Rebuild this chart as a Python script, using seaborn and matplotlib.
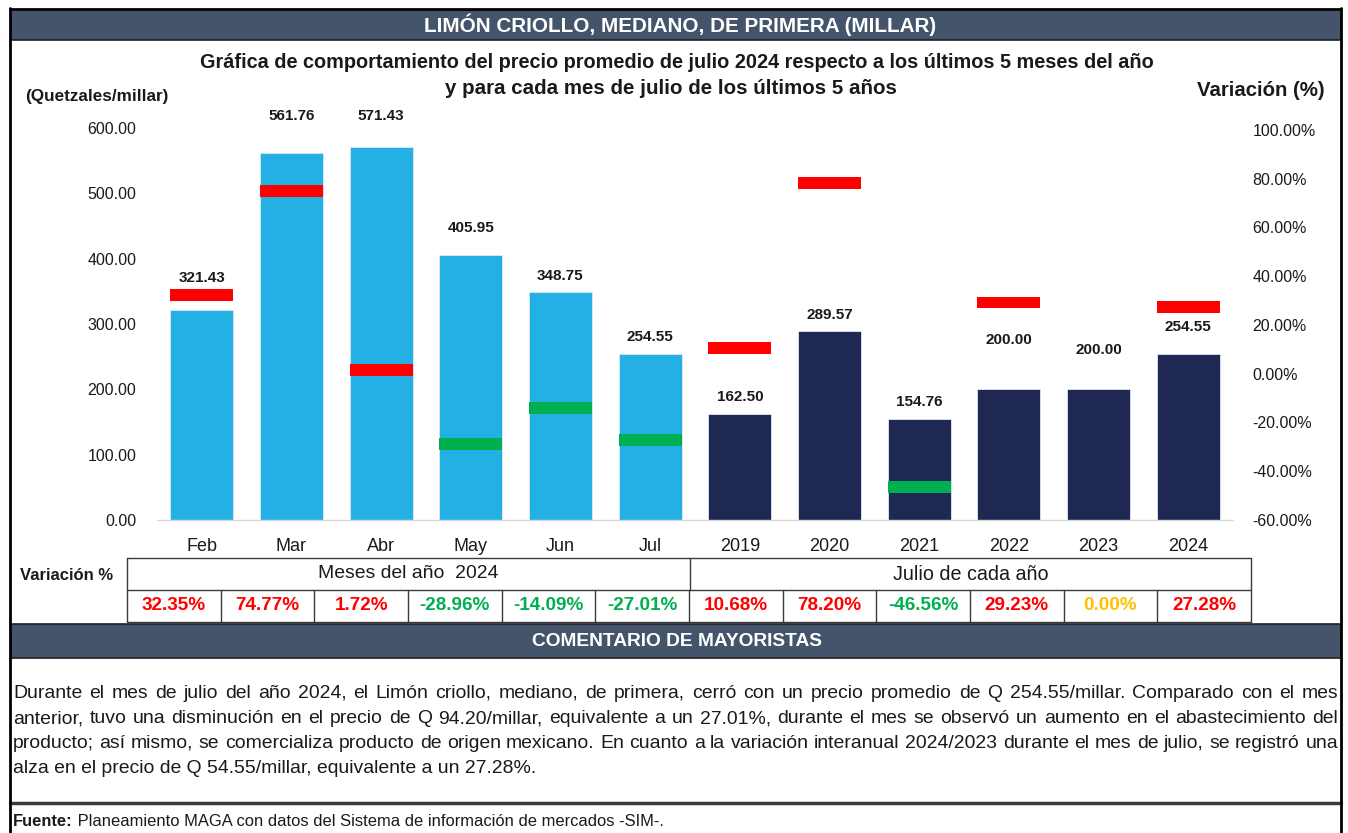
import matplotlib
matplotlib.use("Agg")
import matplotlib.pyplot as plt
import numpy as np
import pandas as pd
import seaborn as sns
from matplotlib import font_manager
from matplotlib.patches import Rectangle
from matplotlib.lines import Line2D

# ---------------- data ----------------
categories = ["Feb", "Mar", "Abr", "May", "Jun", "Jul",
              "2019", "2020", "2021", "2022", "2023", "2024"]
prices = [321.43, 561.76, 571.43, 405.95, 348.75, 254.55,
          162.50, 289.57, 154.76, 200.00, 200.00, 254.55]
variation = [32.35, 74.77, 1.72, -28.96, -14.09, -27.01,
             10.68, 78.20, -46.56, 29.23, 0.00, 27.28]
groups = ["Meses del año  2024"] * 6 + ["Julio de cada año"] * 6
group_names = ["Meses del año  2024", "Julio de cada año"]
left_ticks = [0, 100, 200, 300, 400, 500, 600]
right_ticks = [-60, -40, -20, 0, 20, 40, 60, 80, 100]

header = "LIMÓN CRIOLLO, MEDIANO, DE PRIMERA (MILLAR)"
title1 = "Gráfica de comportamiento del precio promedio de julio 2024 respecto a los últimos 5 meses del año"
title2 = "y para cada mes de julio de los últimos 5 años"
comment_title = "COMENTARIO DE MAYORISTAS"
comment_lines = [
    "Durante el mes de julio del año 2024, el Limón criollo, mediano, de primera, cerró con un precio promedio de Q 254.55/millar.  Comparado con el mes",
    "anterior, tuvo una disminución en el precio de Q 94.20/millar, equivalente a un 27.01%, durante el mes se observó un aumento en el abastecimiento del",
    "producto; así mismo, se comercializa producto de origen mexicano. En cuanto a la variación interanual 2024/2023 durante el mes de julio, se registró una",
    "alza en el precio de Q 54.55/millar, equivalente a un 27.28%.",
]
source_bold = "Fuente:"
source_text = " Planeamiento MAGA con datos del Sistema de información de mercados -SIM-."

# ---------------- style ----------------
LIGHT = "#23B0E4"
NAVY = "#1E2852"
SLATE = "#44546A"
RED = "#FF0000"
GREEN = "#00B050"
AMBER = "#FFC000"
TXT = "#1A1A1A"

sns.set_theme(style="white")
BASE = "Liberation Sans"
try:
    font_manager.findfont(BASE, fallback_to_default=False)
except Exception:
    BASE = "DejaVu Sans"
plt.rcParams["font.family"] = [BASE, "DejaVu Sans"]

W, H = 1348, 833
fig = plt.figure(figsize=(W / 100, H / 100), dpi=100)
renderer = fig.canvas.get_renderer()


def fx(x):
    return x / W


def fy(y):
    return 1 - y / H


def measure(s, size, weight="normal"):
    t = fig.text(0, 0, s, fontsize=size, fontweight=weight)
    w = t.get_window_extent(renderer).width
    t.remove()
    return w


def advance(s, size, weight="normal"):
    # advance width of s, independent of glyph ink bearings
    return measure("|" + s + "|", size, weight) - measure("||", size, weight)


def put(x, y, s, width=None, size=12, ha="center", weight="normal", color=TXT,
        va="center"):
    if width is not None:
        size = size * width / measure(s, size, weight)
    return fig.text(fx(x), fy(y), s, fontsize=size, ha=ha, va=va,
                    fontweight=weight, color=color)


def hline(x0, x1, y, color="#000000", lw=1.0):
    fig.add_artist(Line2D([fx(x0), fx(x1)], [fy(y), fy(y)], color=color, lw=lw,
                          transform=fig.transFigure))


def vline(x, y0, y1, color="#000000", lw=1.0):
    fig.add_artist(Line2D([fx(x), fx(x)], [fy(y0), fy(y1)], color=color, lw=lw,
                          transform=fig.transFigure))


def band(x0, x1, y0, y1, color):
    fig.add_artist(Rectangle((fx(x0), fy(y1)), fx(x1) - fx(x0), (y1 - y0) / H,
                             facecolor=color, edgecolor="none",
                             transform=fig.transFigure, zorder=0))


# ---------------- frame & bands ----------------
band(10, 1341, 9, 40, SLATE)
band(10, 1341, 624, 658, SLATE)
hline(10, 1341, 9, lw=2)
hline(10, 1341, 40, color="#202020", lw=1.2)
hline(10, 1341, 624, color="#202020", lw=1.2)
hline(10, 1341, 658, color="#202020", lw=1.2)
hline(10, 1341, 803, color="#3A3A3A", lw=2.5)
vline(10, 8, 833, lw=2)
vline(1341, 8, 833, lw=2)

put(680, 25, header, width=511, weight="bold", color="white")
put(677, 63, title1, width=949, weight="bold")
put(671, 88, title2, width=448, weight="bold")
put(25, 96, "(Quetzales/millar)", width=142, ha="left", weight="bold")
put(1325, 91, "Variación (%)", width=128, ha="right", weight="bold")
put(677, 641, comment_title, width=289, weight="bold", color="white")

# ---------------- chart ----------------
ax = fig.add_axes([fx(157), fy(520), fx(1233) - fx(157), (520 - 128) / H])
df = pd.DataFrame({"cat": categories, "price": prices, "group": groups})
sns.barplot(data=df, x="cat", y="price", hue="group", order=categories,
            hue_order=group_names, palette=[LIGHT, NAVY], saturation=1,
            width=0.7, dodge=False, legend=False, edgecolor="#DCEAF5",
            linewidth=0.6, ax=ax)
ax.set_xlim(-0.5, len(categories) - 0.5)
ax.set_ylim(0, 600)
ax.set_yticks(left_ticks)
ax.set_yticklabels([f"{t:.2f}" for t in left_ticks])
ax.set_xlabel("")
ax.set_ylabel("")
ax.tick_params(axis="y", length=0, pad=15, labelsize=11.5, labelcolor=TXT)
ax.tick_params(axis="x", length=0, pad=13, labelsize=13, labelcolor=TXT)
for side in ["top", "left", "right"]:
    ax.spines[side].set_visible(False)
ax.spines["bottom"].set_color("#D9D9D9")
ax.spines["bottom"].set_linewidth(1.0)

label_offsets_px = [32, 37, 31, 27, 16, 17, 17, 16, 17, 49, 39, 27]
for i, (p, off) in enumerate(zip(prices, label_offsets_px)):
    ax.annotate(f"{p:.2f}", (i, p), xytext=(0, off), textcoords="offset pixels",
                ha="center", va="center", fontsize=11, fontweight="bold",
                color=TXT, annotation_clip=False)

ax2 = ax.twinx()
ax2.set_ylim(-60, 100.8)
ax2.set_yticks(right_ticks)
ax2.set_yticklabels([f"{t:.2f}%" for t in right_ticks])
ax2.tick_params(axis="y", length=0, pad=14, labelsize=11.5, labelcolor=TXT)
for side in ax2.spines:
    ax2.spines[side].set_visible(False)
MARK_H = 4.9
for i, v in enumerate(variation):
    if v == 0:
        continue
    ax2.bar(i, MARK_H, bottom=v - MARK_H / 2, width=0.7,
            color=RED if v > 0 else GREEN, linewidth=0)

# ---------------- table ----------------
T_L, T_R, T_SPLIT = 127, 1251, 690
T_TOP, T_MID, T_BOT = 558, 590, 622
LC = "#3A3A3A"
hline(T_L, T_R, T_TOP, color=LC)
hline(T_L, T_R, T_MID, color=LC)
hline(T_L, T_R, T_BOT, color=LC)
vline(T_SPLIT, T_TOP, T_MID, color=LC)
cell_w = (T_R - T_L) / len(categories)
for k in range(len(categories) + 1):
    x = T_L + k * cell_w
    y0 = T_TOP if k in (0, len(categories)) else T_MID
    vline(x, y0, T_BOT, color=LC)

put(20, 575, "Variación %", width=93, ha="left", weight="bold")
put((T_L + T_SPLIT) / 2, 574, group_names[0], width=180)
put((T_SPLIT + T_R) / 2, 574, group_names[1], width=156)
val_size = 12 * 68 / measure("32.35%", 12, "bold") * 0.94
for k, v in enumerate(variation):
    col = RED if v > 0 else (GREEN if v < 0 else AMBER)
    put(T_L + (k + 0.5) * cell_w, 606, f"{v:.2f}%", size=val_size,
        weight="bold", color=col)

# ---------------- comment paragraph (justified) ----------------
P_L, P_R = 13, 1338
target = P_R - P_L
size_p = min(12 * target / advance(l, 12) for l in comment_lines[:3])
line_base = [698, 723, 748, 773]
for li, (line, y) in enumerate(zip(comment_lines, line_base)):
    if li == len(comment_lines) - 1:
        put(P_L, y, line, size=size_p, ha="left", va="baseline")
        continue
    words = line.split()
    widths = [advance(w, size_p) for w in words]
    gap = (target - sum(widths)) / (len(words) - 1)
    x = P_L
    for w, wd in zip(words, widths):
        put(x, y, w, size=size_p, ha="left", va="baseline")
        x += wd + gap

# ---------------- source ----------------
src_size = 11 * 642 / measure(source_bold + source_text, 11)
put(13, 826, source_bold, size=src_size, ha="left", weight="bold", va="baseline")
bw = advance(source_bold, src_size, "bold")
put(13 + bw, 826, source_text, size=src_size, ha="left", va="baseline")

fig.savefig("out.png", dpi=100)
